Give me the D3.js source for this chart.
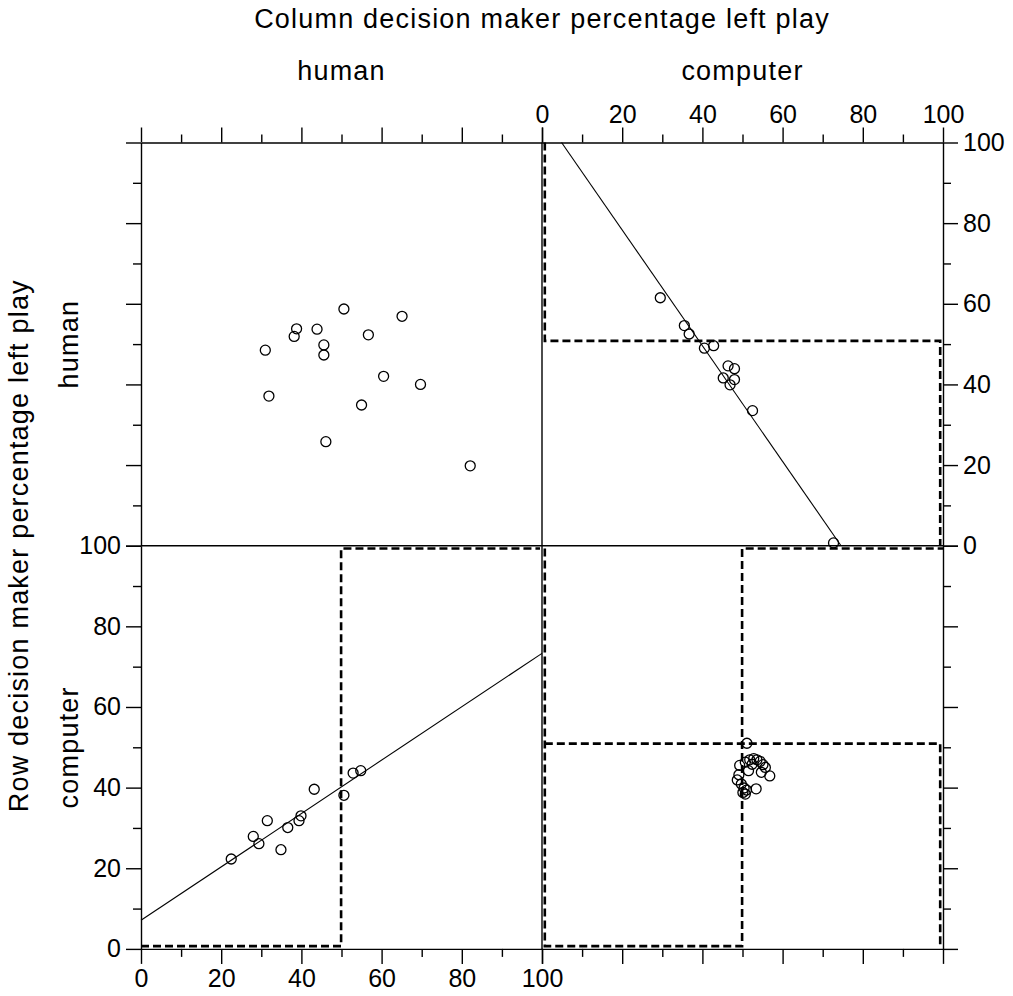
<!DOCTYPE html>
<html>
<head>
<meta charset="utf-8">
<script src="https://cdn.jsdelivr.net/npm/d3@7"></script>
<style>
  body { margin: 0; background: #fff; }
  text { font-family: "Liberation Sans", Arial, sans-serif; fill: #000; }
</style>
</head>
<body>
<div id="chart"></div>
<script>
// tick values (percent)
var majorTicks = [0, 20, 40, 60, 80, 100];
var minorTicks = [10, 30, 50, 70, 90];

// row human / column human (top left)
var hhX = [50.6, 65.1, 38.8, 43.9, 38.2, 56.7, 45.6, 45.6, 31.0, 60.5, 69.7, 31.9, 55.0, 46.1, 82.1];
var hhY = [58.7, 56.9, 53.8, 53.7, 51.9, 52.3, 49.8, 47.3, 48.5, 42.0, 40.0, 37.1, 34.9, 25.8, 19.8];

// row human / column computer (top right)
var hcX = [29.5, 35.5, 36.7, 40.5, 42.8, 46.4, 48.0, 45.2, 48.0, 46.9, 52.5, 72.7];
var hcY = [61.5, 54.6, 52.5, 49.0, 49.6, 44.6, 43.9, 41.6, 41.2, 39.9, 33.5, 0.7];
var hcFit = [107.0, -1.435];   // intercept, slope
var hcBest = [[0.7, 100], [0.7, 50.8], [99.3, 50.8], [99.3, 0]];

// row computer / column human (bottom left)
var chX = [22.5, 28.0, 29.4, 31.5, 34.9, 36.6, 39.4, 39.9, 43.2, 50.6, 52.9, 54.8];
var chY = [22.3, 27.9, 26.1, 31.8, 24.6, 30.1, 31.8, 33.0, 39.6, 38.1, 43.6, 44.2];
var chFit = [7.1, 0.662];
var chBest = [[0, 0.7], [49.9, 0.7], [49.9, 99.3], [99.5, 99.3]];

// row computer / column computer (bottom right)
var ccX = [51.1, 49.3, 50.7, 51.8, 52.8, 53.6, 54.4, 55.1, 51.5, 54.7, 56.8, 49.1, 48.7, 49.7, 50.4, 51.0, 50.7, 53.4, 55.7, 52.4, 50.1];
var ccY = [51.0, 45.5, 46.3, 46.9, 47.2, 46.9, 46.5, 45.7, 44.2, 43.8, 42.9, 43.2, 41.9, 40.9, 39.9, 39.4, 38.4, 39.7, 45.0, 45.8, 38.8];
var ccBestA = [[0.7, 99.3], [0.7, 0.7], [49.9, 0.7], [49.9, 99.3], [100, 99.3]];
var ccBestB = [[0.7, 50.9], [99.3, 50.9], [99.3, 0.7]];

var width = 1013, height = 996;
var margin = { left: 141, top: 142.5 };
var panelW = 401, panelH = 403.2;

var svg = d3.select("#chart")
  .append("svg")
  .attr("width", width)
  .attr("height", height);

// scales for the two columns and two rows
var xL = d3.scaleLinear().domain([0, 100]).range([margin.left, margin.left + panelW]);
var xR = d3.scaleLinear().domain([0, 100]).range([margin.left + panelW, margin.left + 2 * panelW]);
var yT = d3.scaleLinear().domain([0, 100]).range([margin.top + panelH, margin.top]);
var yB = d3.scaleLinear().domain([0, 100]).range([margin.top + 2 * panelH, margin.top + panelH]);

var tickFont = 25, titleFont = 27;

function addAxis(axisFn, scale, tx, ty, labels) {
  var g = svg.append("g")
    .attr("transform", "translate(" + tx + "," + ty + ")");
  g.call(axisFn(scale).tickValues(majorTicks).tickSize(15).tickSizeOuter(0)
    .tickPadding(5).tickFormat(labels ? d3.format("d") : ""));
  g.attr("font-size", tickFont)
    .attr("font-family", "Liberation Sans, Arial, sans-serif");
  var m = svg.append("g")
    .attr("transform", "translate(" + tx + "," + ty + ")");
  m.call(axisFn(scale).tickValues(minorTicks).tickSize(8).tickFormat(""));
  m.select(".domain").remove();
  g.selectAll("path, line").attr("stroke", "#000").attr("stroke-width", 1.4);
  m.selectAll("line").attr("stroke", "#000").attr("stroke-width", 1.4);
  g.selectAll("text").attr("fill", "#000");
}

// outer axes
addAxis(d3.axisTop, xL, 0, yT(100), false);
addAxis(d3.axisTop, xR, 0, yT(100), true);
addAxis(d3.axisBottom, xL, 0, yB(0), true);
addAxis(d3.axisBottom, xR, 0, yB(0), false);
addAxis(d3.axisLeft, yT, xL(0), 0, false);
addAxis(d3.axisLeft, yB, xL(0), 0, true);
addAxis(d3.axisRight, yT, xR(100), 0, true);
addAxis(d3.axisRight, yB, xR(100), 0, false);

// middle dividers
svg.append("line")
  .attr("x1", xR(0)).attr("x2", xR(0))
  .attr("y1", yT(100)).attr("y2", yB(0))
  .attr("stroke", "#000").attr("stroke-width", 1.4);
svg.append("line")
  .attr("x1", xL(0)).attr("x2", xR(100))
  .attr("y1", yT(0)).attr("y2", yT(0))
  .attr("stroke", "#000").attr("stroke-width", 1.4);

// best response step lines
function dashed(pts, xs, ys) {
  svg.append("path")
    .datum(pts)
    .attr("d", d3.line().x(function (d) { return xs(d[0]); }).y(function (d) { return ys(d[1]); }))
    .attr("fill", "none")
    .attr("stroke", "#000")
    .attr("stroke-width", 2.6)
    .attr("stroke-dasharray", "8,4");
}
dashed(hcBest, xR, yT);
dashed(chBest, xL, yB);
dashed(ccBestA, xR, yB);
dashed(ccBestB, xR, yB);

// regression lines, clipped to the panel
function fitLine(fit, xs, ys) {
  var x0 = Math.max(0, (fit[1] > 0 ? (0 - fit[0]) : (100 - fit[0])) / fit[1]);
  var x1 = Math.min(100, (fit[1] > 0 ? (100 - fit[0]) : (0 - fit[0])) / fit[1]);
  svg.append("line")
    .attr("x1", xs(x0)).attr("y1", ys(fit[0] + fit[1] * x0))
    .attr("x2", xs(x1)).attr("y2", ys(fit[0] + fit[1] * x1))
    .attr("stroke", "#000").attr("stroke-width", 1.1);
}
fitLine(hcFit, xR, yT);
fitLine(chFit, xL, yB);

// scatter points
function points(xv, yv, xs, ys) {
  svg.append("g").selectAll("circle")
    .data(xv)
    .enter()
    .append("circle")
    .attr("cx", function (d) { return xs(d); })
    .attr("cy", function (d, i) { return ys(yv[i]); })
    .attr("r", 5)
    .attr("fill", "none")
    .attr("stroke", "#000")
    .attr("stroke-width", 1.3);
}
points(hhX, hhY, xL, yT);
points(hcX, hcY, xR, yT);
points(chX, chY, xL, yB);
points(ccX, ccY, xR, yB);

// titles
function label(txt, x, y, rotate) {
  svg.append("text")
    .attr("transform", "translate(" + x + "," + y + ")" + (rotate ? " rotate(-90)" : ""))
    .attr("text-anchor", "middle")
    .attr("font-size", titleFont)
    .attr("letter-spacing", 1.2)
    .text(txt);
}
label("Column decision maker percentage left play", xR(0), 28, false);
label("human", xL(50), 80, false);
label("computer", xR(50), 80, false);
label("Row decision maker percentage left play", 28, yT(0), true);
label("human", 78, yT(50), true);
label("computer", 78, yB(50), true);
</script>
</body>
</html>
